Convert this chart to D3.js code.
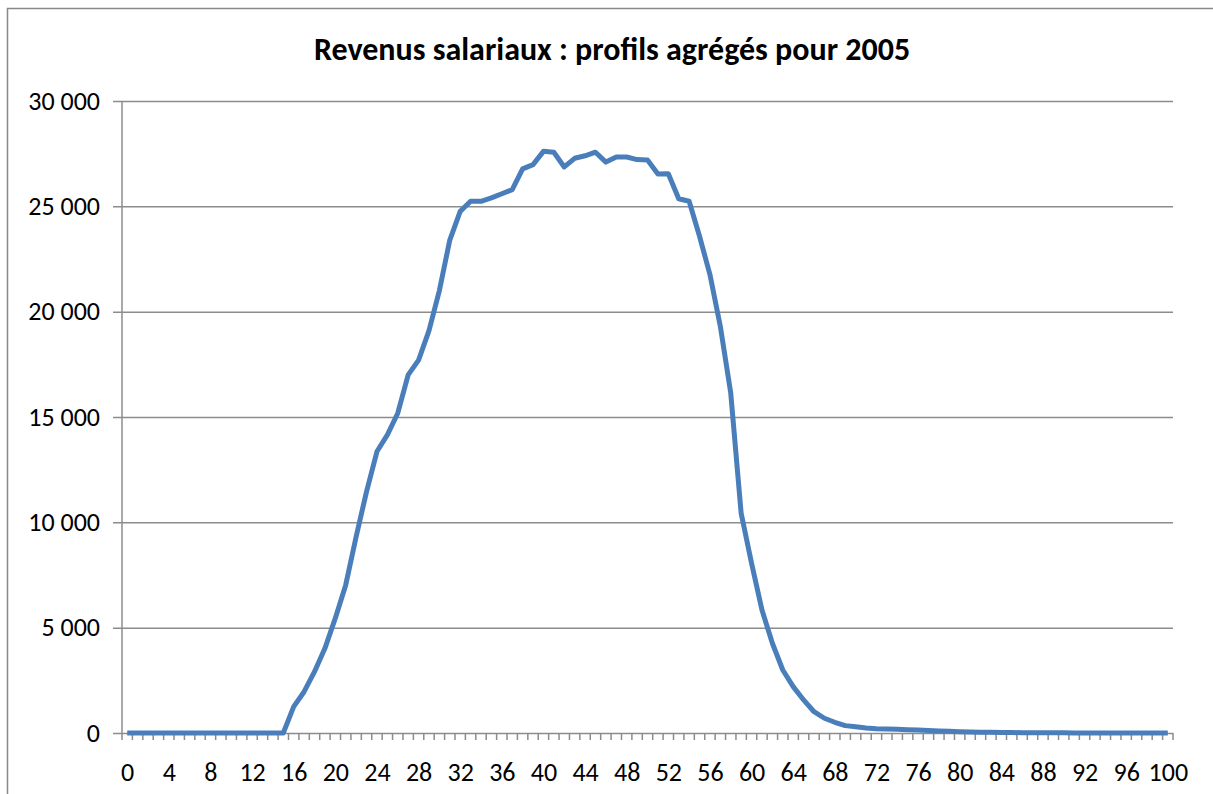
<!DOCTYPE html>
<html>
<head>
<meta charset="utf-8">
<script src="https://cdn.jsdelivr.net/npm/d3@7"></script>
<style>
  body { margin: 0; background: #fff; }
  text { font-family: Carlito, Calibri, Lato, "Open Sans", sans-serif; }
</style>
</head>
<body>
<div id="chart"></div>
<script>
var title = "Revenus salariaux : profils agrégés pour 2005";

// ages 0..100
var ages = d3.range(0, 101);
// revenu salarial moyen par âge
var revenus = [
  0, 0, 0, 0, 0, 0, 0, 0, 0, 0,
  0, 0, 0, 0, 0, 0, 1250, 1960, 2910, 4020,
  5450, 7030, 9320, 11460, 13360, 14150, 15180, 17000, 17700, 19100,
  21000, 23400, 24760, 25240, 25240, 25400, 25600, 25790, 26780, 26980,
  27610, 27570, 26870, 27280, 27400, 27570, 27100, 27340, 27340, 27220,
  27200, 26540, 26550, 25360, 25240, 23580, 21760, 19300, 16130, 10430,
  8060, 5840, 4260, 2990, 2200, 1570, 1010, 700, 510, 350,
  300, 240, 200, 190, 175, 160, 140, 120, 100, 80,
  60, 50, 40, 30, 25, 20, 15, 12, 10, 8,
  6, 5, 4, 3, 2, 2, 1, 1, 1, 0, 0
];
var yTicks = [0, 5000, 10000, 15000, 20000, 25000, 30000];
var xLabels = ages.filter(function(d){ return d % 4 === 0; });

var width = 1213, height = 794;
var margin = {top: 101, right: 40, bottom: 61, left: 122};

var svg = d3.select("#chart")
  .append("svg")
    .attr("width", width)
    .attr("height", height);

// cadre de la zone graphique
svg.append("rect")
  .attr("x", 7.5).attr("y", 8.5)
  .attr("width", width + 10).attr("height", height + 10)
  .style("fill", "none")
  .style("stroke", "#888")
  .style("stroke-width", 1.5);

var x = d3.scalePoint()
  .domain(ages)
  .range([margin.left, width - margin.right])
  .padding(0.5);

var band = d3.scaleBand()
  .domain(ages)
  .range([margin.left, width - margin.right]);

var y = d3.scaleLinear()
  .domain([0, 30000])
  .range([height - margin.bottom, margin.top]);

var fmt = function(d) { return d3.format(",")(d).replace(/,/g, " "); };

// grille + axe Y
var yAxis = svg.append("g")
  .attr("transform", "translate(" + margin.left + ",0)")
  .call(d3.axisLeft(y)
    .tickValues(yTicks)
    .tickSize(-(width - margin.right - margin.left))
    .tickSizeOuter(0)
    .tickPadding(22)
    .tickFormat(fmt));
yAxis.select(".domain").remove();
yAxis.selectAll(".tick line")
  .attr("x1", -9)
  .style("stroke", "#8c8c8c")
  .style("stroke-width", 1.5);
yAxis.selectAll(".tick text")
  .style("font-size", "26px")
  .style("fill", "#000");

svg.append("line")
  .attr("x1", margin.left).attr("x2", margin.left)
  .attr("y1", y(30000)).attr("y2", y(0))
  .style("stroke", "#8c8c8c")
  .style("stroke-width", 1.5);

// axe X (catégories)
var xAxis = svg.append("g")
  .attr("transform", "translate(0," + y(0) + ")")
  .call(d3.axisBottom(x)
    .tickValues(xLabels)
    .tickSize(0)
    .tickPadding(30));
xAxis.select(".domain").remove();
xAxis.selectAll(".tick text")
  .style("font-size", "26px")
  .style("fill", "#000");

svg.append("g")
  .selectAll("line")
  .data(ages.concat([101]))
  .enter()
  .append("line")
    .attr("x1", function(d){ return d <= 100 ? band(d) : band(100) + band.bandwidth(); })
    .attr("x2", function(d){ return d <= 100 ? band(d) : band(100) + band.bandwidth(); })
    .attr("y1", y(0))
    .attr("y2", y(0) + 7)
    .style("stroke", "#8c8c8c")
    .style("stroke-width", 1.5);

// courbe
svg.append("path")
  .datum(revenus)
  .style("fill", "none")
  .style("stroke", "#4a7ebb")
  .style("stroke-width", 5)
  .style("stroke-linejoin", "round")
  .attr("d", d3.line()
    .x(function(d, i){ return x(ages[i]); })
    .y(function(d){ return y(d); }));

// titre
svg.append("text")
  .attr("x", 612)
  .attr("y", 60)
  .attr("text-anchor", "middle")
  .style("font-size", "32px")
  .style("font-weight", "bold")
  .text(title);
</script>
</body>
</html>
